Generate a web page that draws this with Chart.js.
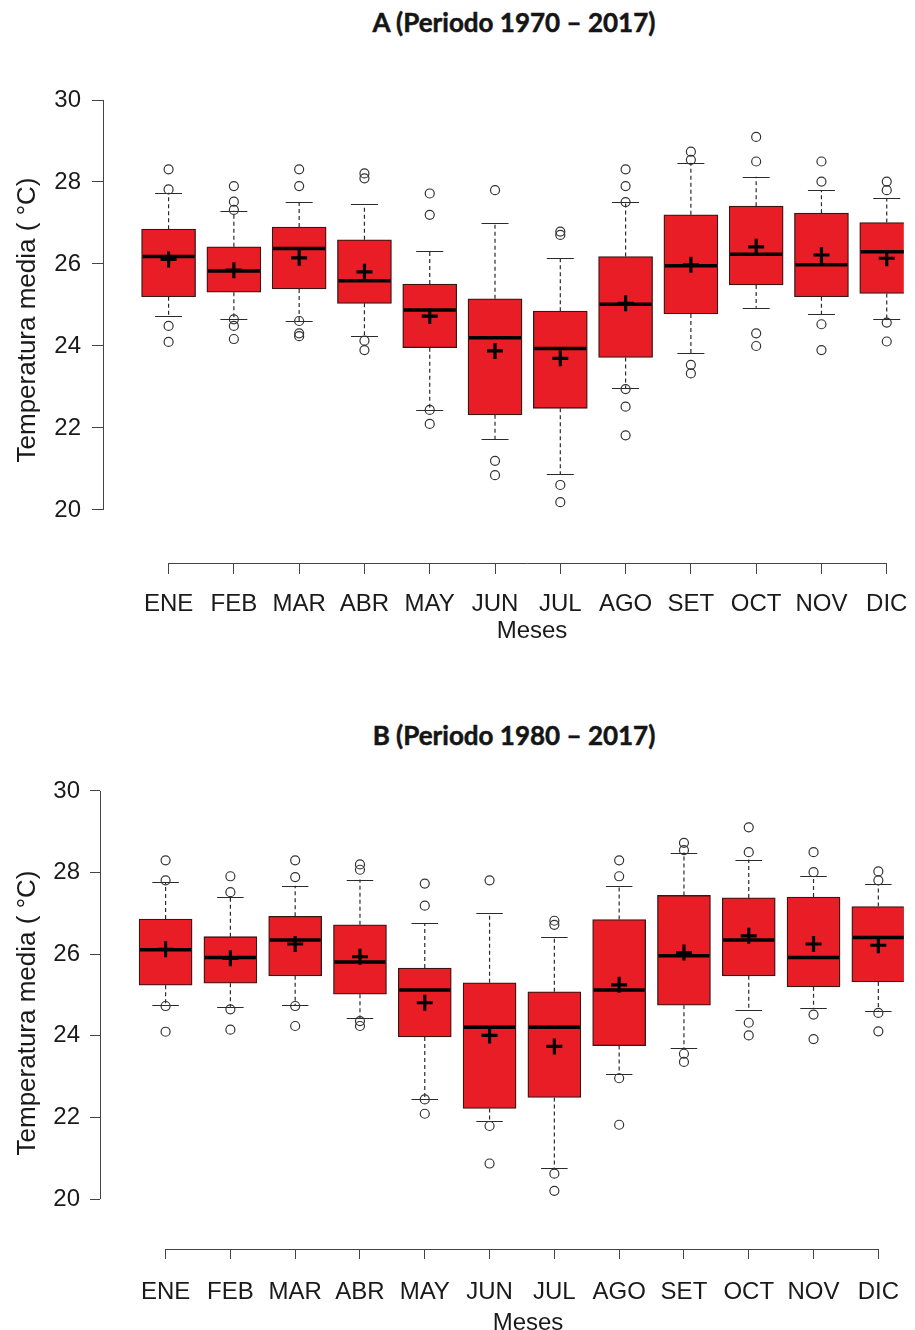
<!DOCTYPE html>
<html>
<head>
<meta charset="utf-8">
<script src="https://cdn.jsdelivr.net/npm/chart.js@4.4.1/dist/chart.umd.min.js"></script>
<style>
  html, body { margin:0; padding:0; background:#fff; width:915px; height:1330px; overflow:hidden; position:relative; }
  .ttl { position:absolute; left:264px; width:500px; text-align:center; font-family:Lato, "Open Sans", sans-serif; font-weight:700; font-size:26px; line-height:30px; color:#151515; -webkit-text-stroke:0.5px #151515; }
  .xt { position:absolute; width:200px; text-align:center; font-family:"Liberation Sans", Arial, sans-serif; font-size:24px; line-height:28.8px; color:#1a1a1a; z-index:2; }
  .wrap { position:absolute; left:0; width:915px; }
  canvas { display:block; }
</style>
</head>
<body>
<div class="ttl" style="top:7px">A (Periodo 1970 – 2017)</div>
<div class="wrap" style="top:0; height:660px"><canvas id="cA" width="915" height="660"></canvas></div>
<div class="xt" id="xtA" style="left:432px; top:615.6px"></div>
<div class="ttl" style="top:720px">B (Periodo 1980 – 2017)</div>
<div class="wrap" style="top:680px; height:680px"><canvas id="cB" width="915" height="680"></canvas></div>
<div class="xt" id="xtB" style="left:428px; top:1307.6px"></div>
<script>
// ---------- DATA ----------
const months = ['ENE','FEB','MAR','ABR','MAY','JUN','JUL','AGO','SET','OCT','NOV','DIC'];
const yTicks = [20, 22, 24, 26, 28, 30];
const xLabel = 'Meses';
const yLabel = 'Temperatura media ( °C)';

// A: 1970 - 2017
const lowA  = [24.74, 24.65, 24.61, 24.24, 22.44, 21.72, 20.88, 22.97, 23.82, 24.93, 24.78, 24.67];
const q1A   = [25.20, 25.31, 25.39, 25.04, 23.96, 22.32, 22.48, 23.72, 24.78, 25.49, 25.20, 25.28];
const medA  = [26.18, 25.83, 26.38, 25.59, 24.88, 24.20, 23.94, 25.02, 25.96, 26.24, 25.98, 26.30];
const q3A   = [26.85, 26.42, 26.90, 26.59, 25.51, 25.15, 24.85, 26.18, 27.20, 27.41, 27.24, 27.01];
const highA = [27.74, 27.30, 27.51, 27.46, 26.32, 27.01, 26.14, 27.51, 28.47, 28.13, 27.80, 27.60];
const meanA = [26.11, 25.85, 26.15, 25.81, 24.73, 23.88, 23.70, 25.04, 25.98, 26.42, 26.22, 26.14];
const outA = [
  [28.31, 27.82, 24.49, 24.10],
  [27.90, 27.52, 27.32, 24.65, 24.49, 24.17],
  [28.31, 27.90, 24.61, 24.31, 24.24],
  [28.21, 28.09, 24.13, 23.90],
  [27.72, 27.20, 22.44, 22.10],
  [27.80, 21.20, 20.85],
  [26.79, 26.71, 20.61, 20.19],
  [28.31, 27.90, 27.51, 22.95, 22.52, 21.82],
  [28.74, 28.54, 23.54, 23.33],
  [29.10, 28.50, 24.31, 24.00],
  [28.50, 28.01, 24.53, 23.90],
  [28.01, 27.80, 24.57, 24.11]
];

// B: 1980 - 2017
const lowB  = [24.75, 24.71, 24.75, 24.43, 22.45, 21.90, 20.75, 23.06, 23.70, 24.63, 24.67, 24.62];
const q1B   = [25.24, 25.29, 25.47, 25.02, 23.97, 22.22, 22.49, 23.76, 24.75, 25.47, 25.20, 25.32];
const medB  = [26.11, 25.92, 26.35, 25.81, 25.12, 24.21, 24.21, 25.12, 25.96, 26.35, 25.92, 26.41];
const q3B   = [26.86, 26.43, 26.93, 26.72, 25.66, 25.30, 25.08, 26.85, 27.44, 27.38, 27.40, 27.17];
const highB = [27.77, 27.40, 27.68, 27.83, 26.76, 27.01, 26.43, 27.68, 28.49, 28.32, 27.91, 27.71];
const meanB = [26.12, 25.90, 26.25, 25.94, 24.81, 24.01, 23.74, 25.25, 26.04, 26.45, 26.25, 26.22];
const outB = [
  [28.30, 27.81, 24.73, 24.10],
  [27.91, 27.52, 24.65, 24.15],
  [28.30, 27.89, 24.73, 24.24],
  [28.20, 28.07, 24.36, 24.24],
  [27.73, 27.19, 22.44, 22.09],
  [27.81, 21.79, 20.87],
  [26.82, 26.72, 20.62, 20.20],
  [28.30, 27.91, 22.96, 21.82],
  [28.73, 28.55, 23.56, 23.36],
  [29.11, 28.50, 24.32, 24.01],
  [28.50, 28.01, 24.52, 23.92],
  [28.03, 27.81, 24.56, 24.11]
];

document.getElementById('xtA').textContent = xLabel;
document.getElementById('xtB').textContent = xLabel;

// ---------- DRAWING ----------
const boxExtras = {
  id: 'boxExtras',
  afterDatasetDraw(chart, args, opts) {
    if (args.index !== 0) return;
    const xs = chart.scales.x, ys = chart.scales.y, ctx = chart.ctx, ca = chart.chartArea;
    ctx.save();
    ctx.beginPath();
    ctx.rect(ca.left, 0, ca.right - ca.left, chart.height);
    ctx.clip();
    for (let i = 0; i < opts.med.length; i++) {
      const px = xs.getPixelForValue(i);
      const half = opts.bw / 2, cap = opts.bw / 4;
      ctx.strokeStyle = '#2a2a2a';
      ctx.lineWidth = 1.2;
      ctx.setLineDash([4, 3]);
      ctx.beginPath();
      ctx.moveTo(px, ys.getPixelForValue(opts.q3[i]));
      ctx.lineTo(px, ys.getPixelForValue(opts.high[i]));
      ctx.moveTo(px, ys.getPixelForValue(opts.q1[i]));
      ctx.lineTo(px, ys.getPixelForValue(opts.low[i]));
      ctx.stroke();
      ctx.setLineDash([]);
      ctx.beginPath();
      const yh = Math.round(ys.getPixelForValue(opts.high[i])) + 0.5;
      const yl = Math.round(ys.getPixelForValue(opts.low[i])) + 0.5;
      ctx.moveTo(px - cap, yh); ctx.lineTo(px + cap, yh);
      ctx.moveTo(px - cap, yl); ctx.lineTo(px + cap, yl);
      ctx.stroke();
      ctx.strokeStyle = '#000';
      ctx.lineWidth = 3.5;
      ctx.beginPath();
      const ym = ys.getPixelForValue(opts.med[i]);
      ctx.moveTo(px - half + 1, ym); ctx.lineTo(px + half - 1, ym);
      ctx.stroke();
    }
    ctx.restore();
  },
  afterDraw(chart, args, opts) {
    const xs = chart.scales.x, ys = chart.scales.y, ctx = chart.ctx, ca = chart.chartArea;
    ctx.save();
    ctx.strokeStyle = '#444';
    ctx.lineWidth = 1;
    ctx.beginPath();
    const ax = Math.round(ca.left) + 0.5;
    ctx.moveTo(ax, ys.getPixelForValue(yTicks[0]));
    ctx.lineTo(ax, ys.getPixelForValue(yTicks[yTicks.length - 1]));
    const ay = Math.round(ca.bottom) + 0.5;
    ctx.moveTo(xs.getPixelForValue(0), ay);
    ctx.lineTo(xs.getPixelForValue(months.length - 1), ay);
    ctx.stroke();
    ctx.restore();
  }
};

function makeChart(id, d, L) {
  const font = { family: '"Liberation Sans", Arial, sans-serif', size: 24 };
  const outPts = [];
  d.out.forEach((arr, i) => arr.forEach(v => outPts.push({ x: i, y: v })));
  return new Chart(document.getElementById(id), {
    type: 'bar',
    data: {
      datasets: [
        {
          type: 'bar', order: 3,
          data: months.map((m, i) => ({ x: i, y: [d.q1[i], d.q3[i]] })),
          backgroundColor: '#e91d25',
          borderColor: '#3b1414',
          borderWidth: 1.3,
          borderSkipped: false,
          barThickness: L.bw
        },
        {
          type: 'scatter', order: 2,
          data: outPts,
          pointStyle: 'circle',
          pointRadius: 4.5,
          pointBorderWidth: 1.2,
          pointBorderColor: '#333',
          pointBackgroundColor: 'rgba(0,0,0,0)'
        },
        {
          type: 'scatter', order: 1,
          data: months.map((m, i) => ({ x: i, y: d.mean[i] })),
          pointStyle: 'cross',
          pointRadius: 8,
          pointBorderWidth: 3.2,
          pointBorderColor: '#000'
        }
      ]
    },
    options: {
      responsive: false,
      animation: false,
      events: [],
      layout: { padding: { top: L.padTop, left: 0, right: 0, bottom: 0 } },
      plugins: {
        legend: { display: false },
        tooltip: { enabled: false },
        title: { display: false },
        boxExtras: { low: d.low, q1: d.q1, med: d.med, q3: d.q3, high: d.high, bw: L.bw }
      },
      scales: {
        x: {
          type: 'linear',
          offset: false,
          min: L.xmin, max: L.xmax,
          afterBuildTicks: s => { s.ticks = months.map((m, i) => ({ value: i })); },
          afterFit: s => { s.height = L.xH; s.paddingLeft = 0; s.paddingRight = 0; },
          ticks: { font, color: '#1a1a1a', padding: L.xPad, maxRotation: 0, autoSkip: false,
                   callback: (v) => months[v] },
          grid: { display: true, offset: false, drawOnChartArea: false, drawTicks: true, tickLength: L.xTick, color: '#444', lineWidth: 1 },
          border: { display: false },
          title: { display: false }
        },
        y: {
          type: 'linear',
          min: L.ymin, max: L.ymax,
          afterBuildTicks: s => { s.ticks = yTicks.map(v => ({ value: v })); },
          afterFit: s => { s.width = L.yW; s.paddingTop = 0; s.paddingBottom = 0; },
          ticks: { font, color: '#1a1a1a', padding: L.yPad, callback: v => String(v) },
          grid: { display: true, drawOnChartArea: false, drawTicks: true, tickLength: L.yTick, color: '#444', lineWidth: 1 },
          border: { display: false },
          title: { display: true, text: yLabel, font: { family: font.family, size: 26 }, color: '#1a1a1a', padding: { top: 12.4, bottom: 0 } }
        }
      }
    },
    plugins: [boxExtras]
  });
}

makeChart('cA',
  { low: lowA, q1: q1A, med: medA, q3: q3A, high: highA, mean: meanA, out: outA },
  { padTop: 77, yW: 103, xH: 97, xmin: -1.0045, xmax: 11.2613, ymin: 18.707, ymax: 30.561,
    bw: 54, xPad: 15.6, xTick: 11, yPad: 11, yTick: 11 });

makeChart('cB',
  { low: lowB, q1: q1B, med: medB, q3: q3B, high: highB, mean: meanB, out: outB },
  { padTop: 97, yW: 100, xH: 111, xmin: -1.0122, xmax: 11.393, ymin: 18.775, ymax: 30.343,
    bw: 53, xPad: 18.6, xTick: 10, yPad: 10, yTick: 10 });
</script>
</body>
</html>
